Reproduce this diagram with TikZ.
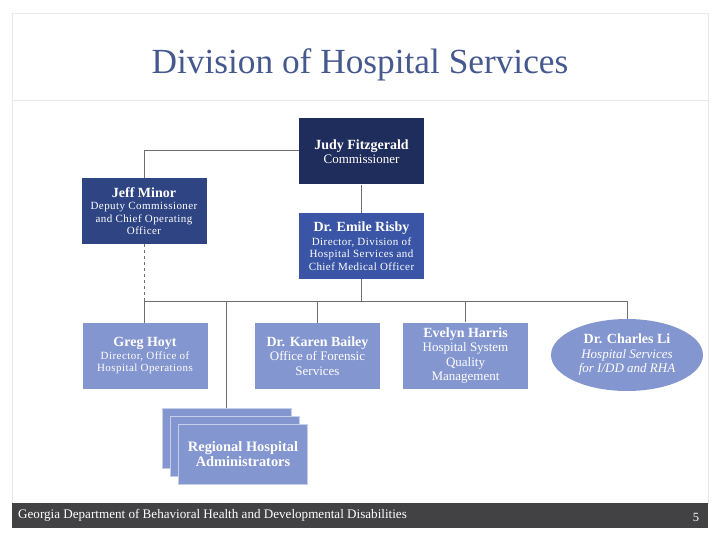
\documentclass[tikz,border=0pt]{standalone}
\usepackage{fontspec}
\setmainfont{Liberation Serif}
\usetikzlibrary{positioning, shapes.geometric}
\definecolor{titleblue}{HTML}{46598F}
\definecolor{topnavy}{HTML}{1F2D5C}
\definecolor{midnavy}{HTML}{2F4483}
\definecolor{midblue}{HTML}{3A55A5}
\definecolor{paleblue}{HTML}{8496CF}
\definecolor{paleedge}{HTML}{C5CFEA}
\definecolor{linegray}{HTML}{6E6E6E}
\definecolor{framegray}{HTML}{E8E8E8}
\definecolor{footgray}{HTML}{424244}
\newcommand{\namefont}{\fontsize{14}{14}\selectfont\bfseries\addfontfeature{LetterSpace=0}}
\newcommand{\rolefont}{\fontsize{11}{12.5}\selectfont\addfontfeature{LetterSpace=4}}
\newcommand{\officefont}{\fontsize{13}{14.5}\selectfont}

\begin{document}
\begin{tikzpicture}[x=1pt, y=-1pt,
        box/.style={inner sep=0pt, minimum width=125pt, minimum height=66pt, align=center, text=white},
        rolebox/.style={box, font=\rolefont},
        officebox/.style={box, font=\officefont},
        stackbox/.style={box, draw=paleedge, line width=0.6pt, fill=paleblue, minimum width=129pt, minimum height=60pt},
        link/.style={draw=linegray, line width=1pt}
    ]
      \useasboundingbox (0,0) rectangle (720,540);
      % Slide frame
      \draw[framegray, line width=0.8pt] (12,13) rectangle (708,503);
      \draw[framegray, line width=0.8pt] (12,100) -- (708,100);
      \node[text=titleblue, font=\fontsize{35.3}{38}\selectfont] (title) at (360,65) {Division of Hospital Services};
      \fill[footgray] (12,503) rectangle (708,528);
      \node[anchor=west, inner sep=0pt, text=white, font=\fontsize{13.1}{14}\selectfont] (footer) at (18,515.5) {Georgia Department of Behavioral Health and Developmental Disabilities};
      \node[text=white, inner sep=0pt, font=\fontsize{12.5}{14}\selectfont] (page) at (696,517) {5};

      % Top of the chart
      \node[officebox, fill=topnavy] (judy) at (361.5,151.5) {\namefont Judy Fitzgerald\\Commissioner};
      \node[rolebox, fill=midnavy] (jeff) at (144,211) {\namefont Jeff Minor\\Deputy Commissioner\\and Chief Operating\\Officer};
      \node[rolebox, fill=midblue] (risby) at (361.5,246) {\namefont Dr. Emile Risby\\[1pt]Director, Division of\\Hospital Services and\\Chief Medical Officer};

      % Direct reports
      \node[rolebox, fill=paleblue] (greg) at (145,356) {\namefont Greg Hoyt\\Director, Office of\\Hospital Operations};
      \node[officebox, fill=paleblue] (karen) at (317.5,356) {\namefont Dr. Karen Bailey\\Office of Forensic\\Services};
      \node[officebox, fill=paleblue] (evelyn) at (465.5,355.5) {\namefont Evelyn Harris\\Hospital System\\Quality\\Management};
      \node[ellipse, inner sep=0pt, minimum width=152pt, minimum height=72pt, align=center, text=white, fill=paleblue, font=\officefont\itshape] (charles) at (627,355) {\namefont\upshape Dr. Charles Li\\Hospital Services\\for I/DD and RHA};

      % Regional stack
      \node[stackbox] (regionc) at (226.5,438) {};
      \node[stackbox] (regionb) at (234.5,446) {};
      \node[stackbox, font=\fontsize{14.4}{15}\selectfont\bfseries] (regiona) at (243,454) {Regional Hospital\\Administrators};

      % Connectors
      \coordinate (bus) at (361.5,301);
      \draw[link] (judy.west |- 0,151) -| (jeff.north);
      \draw[link] (judy) -- (risby);
      \draw[link] (risby) -- (bus);
      \draw[link] (bus) -| (jeff.south |- greg.north);
      \draw[link] (bus) -| (charles.north);
      \draw[link, dashed] (jeff.south) -- (jeff.south |- bus);
      \draw[link] (karen.north |- bus) -- (karen.north);
      \draw[link] (evelyn.north |- bus) -- (evelyn.north);
      \draw[link] (regionc.north |- bus) -- (regionc.north);
    \end{tikzpicture}
\end{document}
